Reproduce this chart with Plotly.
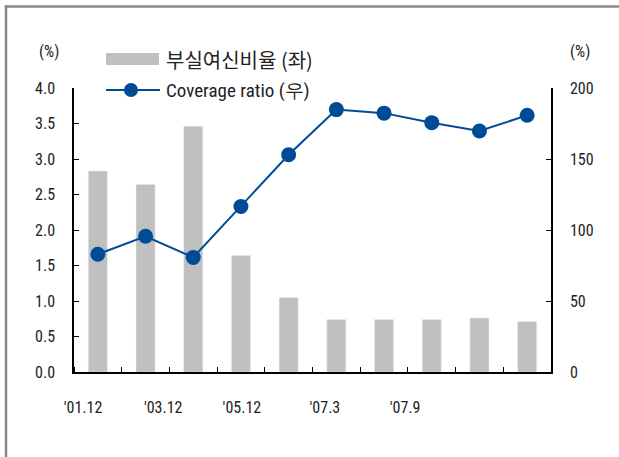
import plotly.graph_objects as go

# ---- data ----
categories = ["'01.12", "'02.12", "'03.12", "'04.12", "'05.12", "'06.12", "'07.3", "'07.6", "'07.9", "'07.10"]
npl_ratio = [2.83, 2.64, 3.46, 1.64, 1.05, 0.74, 0.74, 0.74, 0.76, 0.71]          # 부실여신비율 (좌)
coverage_ratio = [82.9, 95.6, 80.7, 116.6, 153.0, 184.8, 182.3, 175.6, 169.7, 180.8]  # Coverage ratio (우)
tick_labels = ["'01.12", "'03.12", "'05.12", "'07.3", "'07.9"]
tick_label_pos = [-0.31, 1.37, 3.02, 4.76, 6.44]

W, H = 619, 457
# plot area in window pixels: x 74..551, y 88..372
L, R, T, B = 74, 619 - 551, 88, 457 - 372
PW, PH = W - L - R, H - T - B

def px(x):
    return (x - L) / PW

def py(y):
    return (H - B - y) / PH

FONT = "Liberation Sans Narrow, Arial Narrow, Roboto Condensed, Liberation Sans, Arial, sans-serif"
KFONT = "Noto Sans CJK KR, Liberation Sans Narrow, sans-serif"
BAR_COLOR = "#C0C0C0"
LINE_COLOR = "#004B96"

xs = list(range(len(categories)))

fig = go.Figure()
fig.add_trace(go.Bar(x=xs, y=npl_ratio, name="부실여신비율 (좌)", marker_color=BAR_COLOR,
                     width=0.4, yaxis="y", showlegend=False,
                     customdata=categories, hovertemplate="%{customdata}: %{y}<extra></extra>"))
fig.add_trace(go.Scatter(x=xs, y=coverage_ratio, name="Coverage ratio (우)", mode="lines+markers",
                         line=dict(color=LINE_COLOR, width=2),
                         marker=dict(color=LINE_COLOR, size=15),
                         yaxis="y2", showlegend=False,
                         customdata=categories, hovertemplate="%{customdata}: %{y}<extra></extra>"))

axis_font = dict(family=FONT, size=16, color="#222")

fig.update_layout(
    width=W, height=H,
    margin=dict(l=L, r=R, t=T, b=B),
    paper_bgcolor="white", plot_bgcolor="white",
    bargap=0.6,
    xaxis=dict(range=[-0.5, len(categories) - 0.5], tickmode="array",
               tickvals=tick_label_pos, ticktext=tick_labels,
               ticks="", showgrid=False, zeroline=False,
               showline=True, linecolor="black", linewidth=1.5,
               tickfont=axis_font, ticklabelstandoff=20,
               minor=dict(tick0=-0.5, dtick=1, ticks="inside", ticklen=5,
                          tickcolor="black", tickwidth=1, showgrid=False)),
    yaxis=dict(range=[0, 4], dtick=0.5, tickformat=".1f", ticks="inside", ticklen=5,
               tickcolor="black", showline=True, linecolor="black", linewidth=1.5,
               showgrid=False, zeroline=False, tickfont=axis_font, ticklabelstandoff=14),
    yaxis2=dict(range=[0, 200], dtick=50, overlaying="y", side="right",
                ticks="inside", ticklen=5, tickcolor="black", showline=True,
                linecolor="black", linewidth=1.5, showgrid=False, zeroline=False,
                tickfont=axis_font, ticklabelstandoff=14),
)

shapes = [
    # outer frame (left + top)
    dict(type="line", xref="paper", yref="paper", x0=px(6), x1=px(6), y0=py(5), y1=py(470),
         line=dict(color="#888888", width=2.5)),
    dict(type="line", xref="paper", yref="paper", x0=px(5), x1=px(630), y0=py(6.5), y1=py(6.5),
         line=dict(color="#888888", width=2.5)),
    # legend icons
    dict(type="rect", xref="paper", yref="paper", x0=px(106), x1=px(159), y0=py(65), y1=py(53),
         fillcolor=BAR_COLOR, line=dict(width=0)),
    dict(type="line", xref="paper", yref="paper", x0=px(106), x1=px(160), y0=py(90), y1=py(90),
         line=dict(color=LINE_COLOR, width=2)),
    dict(type="circle", xref="paper", yref="paper", x0=px(124), x1=px(138), y0=py(97), y1=py(83),
         fillcolor=LINE_COLOR, line=dict(width=0)),
]
fig.update_layout(shapes=shapes)

annotations = [
    dict(text="부실여신비율 (좌)", x=px(164), y=py(59), xref="paper", yref="paper",
         xanchor="left", yanchor="middle", showarrow=False, font=dict(family=KFONT, size=20, color="#222")),
    dict(text="Coverage ratio (우)", x=px(164), y=py(90), xref="paper", yref="paper",
         xanchor="left", yanchor="middle", showarrow=False, font=dict(family=FONT, size=19, color="#222")),
    dict(text="(%)", x=px(49), y=py(52), xref="paper", yref="paper",
         xanchor="center", yanchor="middle", showarrow=False, font=axis_font),
    dict(text="(%)", x=px(580), y=py(52), xref="paper", yref="paper",
         xanchor="center", yanchor="middle", showarrow=False, font=axis_font),
]
fig.update_layout(annotations=annotations)

fig.write_html("out.html",
               config={"displayModeBar": False},
               post_script="document.body.style.margin='0';document.body.style.overflow='hidden';")
